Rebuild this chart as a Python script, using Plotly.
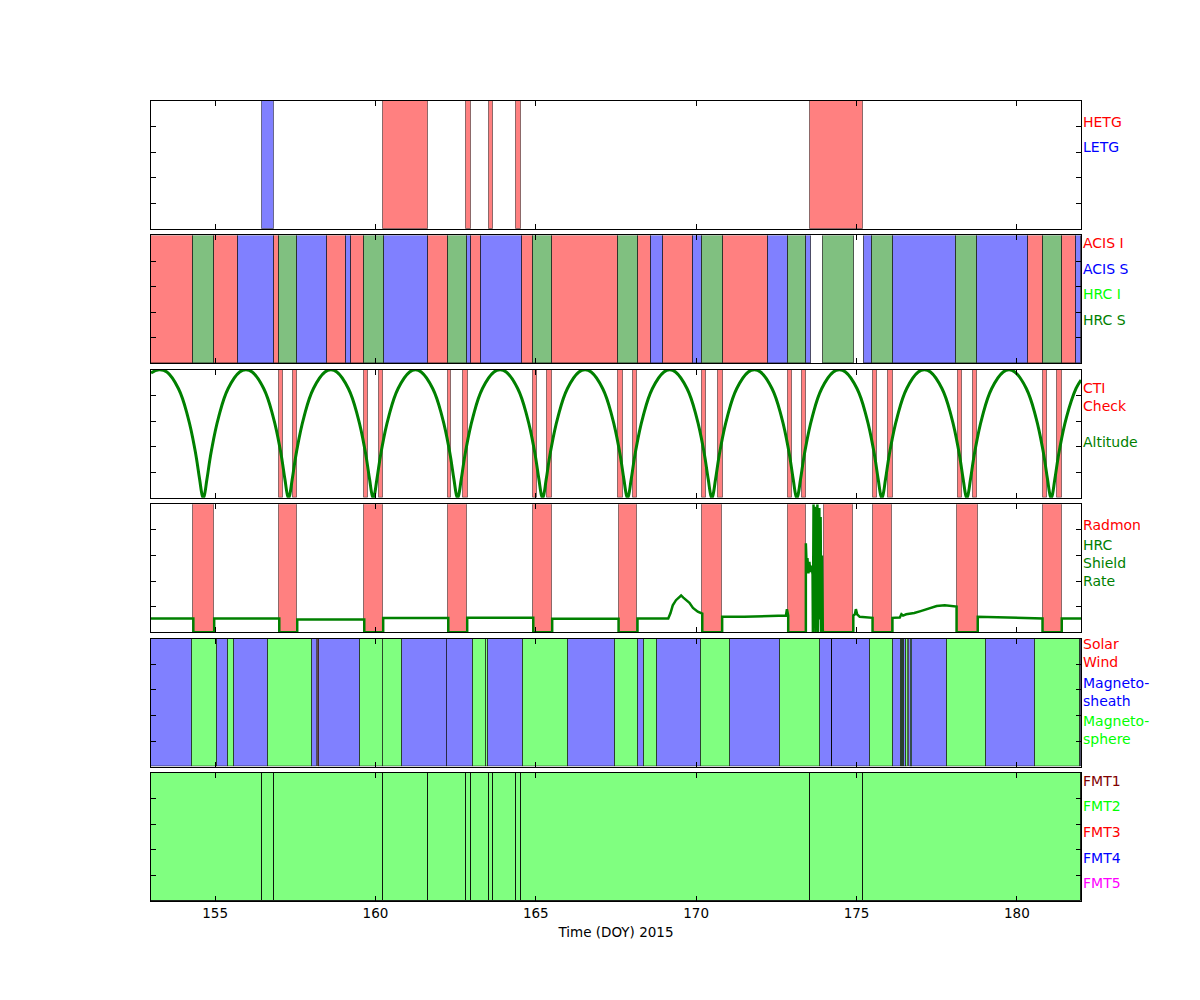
import plotly.graph_objects as go
from plotly.subplots import make_subplots

# ---------------- data ----------------
hetg_start = [160.24, 162.82, 163.55, 164.39, 173.56]
hetg_end = [161.65, 162.99, 163.67, 164.54, 175.21]
letg_start = [156.46]
letg_end = [156.84]

acis_i_start = [153.00, 154.97, 156.84, 158.50, 159.23, 161.65, 162.99, 164.58, 165.51, 168.18, 168.95, 170.84, 180.36, 181.40]
acis_i_end = [154.30, 155.71, 156.98, 159.09, 159.65, 162.25, 163.30, 164.92, 167.57, 168.60, 169.91, 172.25, 180.80, 181.85]
acis_s_start = [155.71, 157.56, 159.09, 160.26, 162.86, 163.30, 168.60, 169.91, 172.25, 173.43, 175.22, 176.14, 178.77, 181.85]
acis_s_end = [156.84, 158.50, 159.23, 161.65, 162.99, 164.58, 168.95, 170.19, 172.87, 173.57, 175.49, 178.11, 180.36, 182.00]
hrc_s_start = [154.30, 156.98, 159.65, 162.25, 164.92, 167.57, 170.19, 172.87, 173.95, 175.49, 178.11, 180.80]
hrc_s_end = [154.97, 157.56, 160.26, 162.86, 165.51, 168.18, 170.84, 173.43, 174.92, 176.14, 178.77, 181.40]

cti_start = [157.00, 157.44, 159.65, 160.10, 162.26, 162.73, 164.92, 165.36, 167.57, 168.04, 170.19, 170.68,
             172.87, 173.31, 175.52, 175.98, 178.15, 178.62, 180.80, 181.25]
cti_end = [157.11, 157.56, 159.78, 160.24, 162.36, 162.88, 165.05, 165.51, 167.72, 168.17, 170.31, 170.83,
           172.99, 173.43, 175.64, 176.13, 178.28, 178.76, 180.93, 181.40]

alt_time = [153.000, 153.250,
            153.496, 153.854, 154.153, 154.374, 154.515, 154.599, 154.630, 154.661, 154.745, 154.886, 155.107, 155.406, 155.764, 155.960,
            156.156, 156.514, 156.813, 157.034, 157.175, 157.259, 157.290, 157.321, 157.405, 157.546, 157.767, 158.066, 158.424, 158.610,
            158.796, 159.154, 159.453, 159.674, 159.815, 159.899, 159.930, 159.961, 160.045, 160.186, 160.407, 160.706, 161.064, 161.245,
            161.426, 161.784, 162.083, 162.304, 162.445, 162.529, 162.560, 162.591, 162.675, 162.816, 163.037, 163.336, 163.694, 163.885,
            164.076, 164.434, 164.733, 164.954, 165.095, 165.179, 165.210, 165.241, 165.325, 165.466, 165.687, 165.986, 166.344, 166.535,
            166.726, 167.084, 167.383, 167.604, 167.745, 167.829, 167.860, 167.891, 167.975, 168.116, 168.337, 168.636, 168.994, 169.175,
            169.356, 169.714, 170.013, 170.234, 170.375, 170.459, 170.490, 170.521, 170.605, 170.746, 170.967, 171.266, 171.624, 171.815,
            172.006, 172.364, 172.663, 172.884, 173.025, 173.109, 173.140, 173.171, 173.255, 173.396, 173.617, 173.916, 174.274, 174.465,
            174.656, 175.014, 175.313, 175.534, 175.675, 175.759, 175.790, 175.821, 175.905, 176.046, 176.267, 176.566, 176.924, 177.115,
            177.306, 177.664, 177.963, 178.184, 178.325, 178.409, 178.440, 178.471, 178.555, 178.696, 178.917, 179.216, 179.574, 179.755,
            179.936, 180.294, 180.593, 180.814, 180.955, 181.039, 181.070, 181.101, 181.185, 181.326, 181.547, 181.846, 182.000]
alt_value = [0.975, 1.000,
             0.983, 0.854, 0.629, 0.371, 0.146, 0.017, 0.000, 0.017, 0.146, 0.371, 0.629, 0.854, 0.983, 1.000,
             0.983, 0.854, 0.629, 0.371, 0.146, 0.017, 0.000, 0.017, 0.146, 0.371, 0.629, 0.854, 0.983, 1.000,
             0.983, 0.854, 0.629, 0.371, 0.146, 0.017, 0.000, 0.017, 0.146, 0.371, 0.629, 0.854, 0.983, 1.000,
             0.983, 0.854, 0.629, 0.371, 0.146, 0.017, 0.000, 0.017, 0.146, 0.371, 0.629, 0.854, 0.983, 1.000,
             0.983, 0.854, 0.629, 0.371, 0.146, 0.017, 0.000, 0.017, 0.146, 0.371, 0.629, 0.854, 0.983, 1.000,
             0.983, 0.854, 0.629, 0.371, 0.146, 0.017, 0.000, 0.017, 0.146, 0.371, 0.629, 0.854, 0.983, 1.000,
             0.983, 0.854, 0.629, 0.371, 0.146, 0.017, 0.000, 0.017, 0.146, 0.371, 0.629, 0.854, 0.983, 1.000,
             0.983, 0.854, 0.629, 0.371, 0.146, 0.017, 0.000, 0.017, 0.146, 0.371, 0.629, 0.854, 0.983, 1.000,
             0.983, 0.854, 0.629, 0.371, 0.146, 0.017, 0.000, 0.017, 0.146, 0.371, 0.629, 0.854, 0.983, 1.000,
             0.983, 0.854, 0.629, 0.371, 0.146, 0.017, 0.000, 0.017, 0.146, 0.371, 0.629, 0.854, 0.983, 1.000,
             0.983, 0.854, 0.629, 0.371, 0.146, 0.017, 0.000, 0.017, 0.146, 0.371, 0.629, 0.854, 0.920]

radmon_start = [154.32, 157.00, 159.65, 162.27, 164.92, 167.58, 170.19, 172.87, 173.98, 175.50, 178.12, 180.80]
radmon_end = [154.97, 157.56, 160.24, 162.86, 165.51, 168.17, 170.81, 173.42, 174.90, 176.12, 178.78, 181.40]

shield_time = [153.00, 154.32, 154.32, 154.97, 154.97, 157.00, 157.00, 157.56, 157.56, 159.65, 159.65, 160.24,
               160.24, 162.27, 162.27, 162.86, 162.86, 164.92, 164.92, 165.51, 165.51, 167.58, 167.58, 168.17,
               168.17, 169.13, 169.20, 169.27, 169.37, 169.45, 169.53, 169.60, 169.70, 169.79, 169.90, 170.05, 170.19, 170.19,
               170.81, 170.81, 171.50, 172.20, 172.80, 172.83, 172.85, 172.87, 172.87,
               173.42, 173.42, 173.44, 173.47, 173.50, 173.53, 173.56, 173.60, 173.63, 173.64, 173.66, 173.68, 173.70,
               173.72, 173.74, 173.76, 173.78, 173.80, 173.82, 173.84, 173.86, 173.88, 173.90, 173.92, 173.95, 173.98,
               174.90, 174.90, 174.95, 174.98, 175.02, 175.10, 175.50, 175.50,
               176.12, 176.12, 176.35, 176.40, 176.45, 176.55, 176.80,
               177.00, 177.30, 177.50, 177.75, 178.05, 178.12, 178.12, 178.78, 178.78, 179.50, 180.20, 180.80, 180.80,
               181.40, 181.40, 182.00]
shield_value = [0.107, 0.107, 0.000, 0.000, 0.108, 0.107, 0.000, 0.000, 0.100, 0.100, 0.000, 0.000,
                0.110, 0.110, 0.000, 0.000, 0.112, 0.112, 0.000, 0.000, 0.105, 0.105, 0.000, 0.000,
                0.107, 0.108, 0.150, 0.210, 0.250, 0.270, 0.287, 0.270, 0.250, 0.230, 0.190, 0.160, 0.145, 0.000,
                0.000, 0.120, 0.120, 0.125, 0.130, 0.180, 0.130, 0.130, 0.000,
                0.000, 0.695, 0.550, 0.580, 0.460, 0.550, 0.470, 0.520, 0.450, 0.000, 1.000, 0.300, 0.980,
                0.000, 0.950, 0.200, 1.000, 0.000, 0.600, 0.970, 0.100, 0.900, 0.000, 0.600, 0.000, 0.000,
                0.000, 0.130, 0.140, 0.180, 0.140, 0.120, 0.112, 0.000,
                0.000, 0.112, 0.115, 0.140, 0.130, 0.140, 0.150,
                0.165, 0.190, 0.205, 0.210, 0.205, 0.200, 0.000, 0.000, 0.120, 0.115, 0.110, 0.107, 0.000,
                0.000, 0.107, 0.107]

sheath_start = [153.00, 155.06, 155.58, 158.03, 158.23, 160.84, 162.24, 163.50, 166.01, 168.19, 168.79, 171.04,
                173.87, 174.24, 176.15, 176.42, 176.49, 176.64, 179.03, 181.97]
sheath_end = [154.28, 155.41, 156.66, 158.19, 159.53, 162.24, 163.05, 164.61, 167.48, 168.36, 170.16, 172.60,
              174.22, 175.43, 176.38, 176.46, 176.53, 177.83, 180.58, 182.00]
sphere_start = [154.28, 155.41, 156.66, 159.53, 160.24, 163.05, 163.46, 164.61, 167.48, 168.36, 170.16, 172.60,
                175.43, 176.38, 176.46, 176.53, 176.71, 177.83, 180.58]
sphere_end = [155.06, 155.58, 158.03, 160.24, 160.84, 163.44, 163.50, 166.01, 168.19, 168.79, 171.04, 173.87,
              176.15, 176.42, 176.49, 176.62, 176.73, 179.03, 181.97]
wind_start = [158.20, 174.22]
wind_end = [158.23, 174.24]

fmt2_start = [153.00, 156.46, 156.84, 160.22, 161.65, 162.82, 162.99, 163.55, 163.67, 164.39, 164.54, 173.56, 175.21]
fmt2_end = [156.46, 156.84, 160.22, 161.65, 162.82, 162.99, 163.55, 163.67, 164.39, 164.54, 173.56, 175.21, 182.00]

x_ticks = [155, 160, 165, 170, 175, 180]
x_title = "Time (DOY) 2015"

# ---------------- figure ----------------
RED = "#ff8080"
BLUE = "#8080ff"
DGREEN = "#80c080"
LIME = "#80ff80"
EDGE = "rgba(0,0,0,0.6)"

# page offset of the plot inside the browser window (body margin)
OFF = 7
ML, MT, PW, PH = 150 - OFF, 100 - OFF, 930, 800

fig = make_subplots(rows=6, cols=1, shared_xaxes=False, vertical_spacing=0.008)


def add_spans(row, starts, ends, color, edge=EDGE):
    mids = [(s + e) / 2 for s, e in zip(starts, ends)]
    widths = [e - s for s, e in zip(starts, ends)]
    fig.add_trace(go.Bar(x=mids, y=[1] * len(mids), width=widths, base=0,
                         marker=dict(color=color, line=dict(color=edge, width=1)),
                         showlegend=False, hoverinfo="skip"), row=row, col=1)


add_spans(1, hetg_start, hetg_end, RED, edge="rgba(0,0,0,0.45)")
add_spans(1, letg_start, letg_end, BLUE, edge="rgba(0,0,0,0.45)")

add_spans(2, acis_i_start, acis_i_end, RED)
add_spans(2, acis_s_start, acis_s_end, BLUE)
add_spans(2, hrc_s_start, hrc_s_end, DGREEN)

add_spans(3, cti_start, cti_end, RED, edge="rgba(0,0,0,0.45)")
fig.add_trace(go.Scatter(x=alt_time, y=alt_value, mode="lines",
                         line=dict(color="#008000", width=3, shape="spline", smoothing=1.2),
                         showlegend=False, hoverinfo="skip"), row=3, col=1)

add_spans(4, radmon_start, radmon_end, RED, edge="rgba(0,0,0,0.45)")
fig.add_trace(go.Scatter(x=shield_time, y=shield_value, mode="lines",
                         line=dict(color="#008000", width=2.5),
                         showlegend=False, hoverinfo="skip"), row=4, col=1)

add_spans(5, sheath_start, sheath_end, BLUE)
add_spans(5, sphere_start, sphere_end, LIME)
add_spans(5, wind_start, wind_end, RED)

add_spans(6, fmt2_start, fmt2_end, LIME, edge="rgba(0,0,0,0.85)")

H = 0.16
GAP = 0.008
for i in range(6):
    top = round(1 - i * (H + GAP), 4)
    bottom = max(0.0, round(top - H, 4))
    n = "" if i == 0 else str(i + 1)
    fig.layout["yaxis" + n].update(domain=[bottom, top])
    fig.layout["xaxis" + n].update(
        range=[153, 182], tickvals=x_ticks, ticks="inside", ticklen=5, tickcolor="black",
        showline=True, linecolor="black", linewidth=1, mirror="ticks", showgrid=False,
        zeroline=False, showticklabels=(i == 5),
        tickfont=dict(family="DejaVu Sans", size=13.5, color="black"))
    fig.layout["yaxis" + n].update(
        range=[0, 1], tickvals=[0.2, 0.4, 0.6, 0.8], ticks="inside", ticklen=5, tickcolor="black",
        showline=True, linecolor="black", linewidth=1, mirror="ticks", showgrid=False,
        zeroline=False, showticklabels=False)

fig.layout["xaxis6"].update(title=dict(text=x_title, standoff=7,
                                       font=dict(family="DejaVu Sans", size=13.5, color="black")))

# right-hand labels: (text, colour, centre y in reference pixels)
labels = [
    ("HETG", "#ff0000", 121), ("LETG", "#0000ff", 146),
    ("ACIS I", "#ff0000", 242), ("ACIS S", "#0000ff", 268), ("HRC I", "#00ff00", 293), ("HRC S", "#008000", 319),
    ("CTI<br>Check", "#ff0000", 395.5), ("Altitude", "#008000", 441),
    ("Radmon", "#ff0000", 524), ("HRC<br>Shield<br>Rate", "#008000", 562),
    ("Solar<br>Wind", "#ff0000", 651.5),
    ("Magneto-<br>sheath", "#0000ff", 690.5),
    ("Magneto-<br>sphere", "#00ff00", 728.5),
    ("FMT1", "#800000", 780), ("FMT2", "#00ff00", 805), ("FMT3", "#ff0000", 831),
    ("FMT4", "#0000ff", 857), ("FMT5", "#ff00ff", 882),
]
for text, color, py in labels:
    fig.add_annotation(text=text, xref="paper", yref="paper", x=(1081 - 150) / PW,
                       y=1 - (py - 100) / PH, xanchor="left", yanchor="middle", align="left",
                       showarrow=False, borderpad=0,
                       font=dict(family="DejaVu Sans", size=14, color=color))

fig.update_layout(width=1200, height=1000,
                  margin=dict(l=ML, r=1200 - ML - PW, t=MT, b=1000 - MT - PH),
                  paper_bgcolor="white", plot_bgcolor="white", barmode="overlay", bargap=0,
                  font=dict(family="DejaVu Sans", size=13.5, color="black"))

fig.write_html("out.html")
